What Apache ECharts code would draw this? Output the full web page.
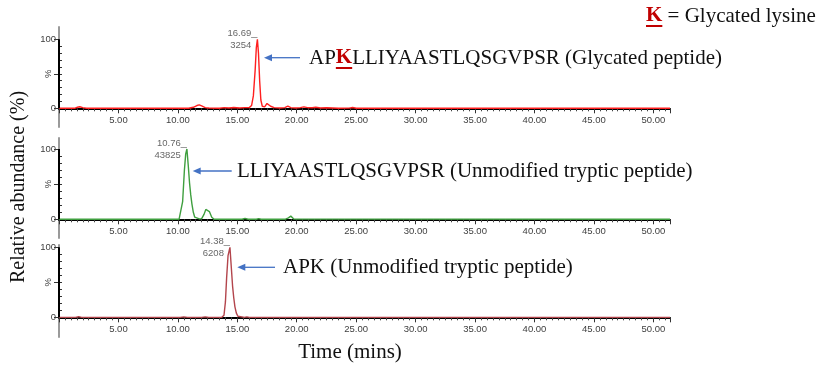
<!DOCTYPE html>
<html>
<head>
<meta charset="utf-8">
<title>Extracted ion chromatograms</title>
<script src="https://cdn.jsdelivr.net/npm/echarts@6/dist/echarts.min.js"></script>
<style>
  html, body { margin: 0; padding: 0; background: #ffffff; }
  #chart { width: 820px; height: 366px; }
</style>
</head>
<body>
<div id="chart"></div>
<script>
// Retention time axis (minutes)
const timeTicks = [5, 10, 15, 20, 25, 30, 35, 40, 45, 50];
const timeRange = [0, 51.4];

// Glycated peptide APKLLIYAASTLQSGVPSR: time (min) / relative abundance (%)
const glycTime  = [0, 1.3, 1.55, 1.75, 2.0, 2.3, 8.0, 10.9, 11.3, 11.6, 11.8, 12.0, 12.3, 12.6, 13.5, 13.9, 14.3, 14.7, 15.2, 15.6, 16.0, 16.2, 16.35, 16.5, 16.6, 16.69, 16.78, 16.88, 16.98, 17.1, 17.3, 17.5, 17.65, 17.8, 18.1, 18.6, 19.0, 19.25, 19.5, 19.9, 20.3, 20.6, 20.9, 21.3, 21.6, 22.0, 22.5, 23.5, 24.4, 24.7, 25.0, 26.0, 51.4];
const glycAbund = [0, 0, 1.5, 2.2, 1.0, 0, 0, 0, 1.5, 4.0, 5.0, 3.5, 1.0, 0.5, 0, 1.0, 0.5, 1.2, 0.5, 1.0, 1.0, 4, 18, 55, 88, 100, 80, 40, 12, 3, 2, 7, 8, 3, 1, 0.5, 1, 3, 1, 0.5, 1, 2, 1, 0.8, 1.5, 0.5, 0.8, 0, 0.3, 1.2, 0, 0, 0];

// Unmodified tryptic peptide LLIYAASTLQSGVPSR
const trypTime  = [0, 10.1, 10.25, 10.4, 10.55, 10.66, 10.76, 10.88, 10.98, 11.08, 11.18, 11.3, 11.42, 11.55, 11.8, 12.0, 12.2, 12.35, 12.5, 12.65, 12.85, 13.05, 15.4, 15.65, 15.9, 16.6, 16.8, 17.0, 19.0, 19.3, 19.5, 19.75, 51.4];
const trypAbund = [0, 0, 2, 25, 70, 93, 100, 75, 52, 35, 22, 10, 3, 0.5, 0.5, 1, 7, 14, 16, 11, 3, 0, 0, 1.2, 0, 0, 1, 0, 0, 2, 4.5, 0.5, 0];

// Unmodified tryptic peptide APK
const apkTime  = [0, 1.4, 1.65, 1.9, 10.2, 10.5, 10.8, 12.0, 12.3, 12.6, 13.7, 13.88, 14.0, 14.1, 14.22, 14.38, 14.5, 14.6, 14.7, 14.8, 14.92, 15.05, 15.2, 15.6, 15.8, 16.0, 51.4];
const apkAbund = [0, 0, 1, 0, 0, 0.6, 0, 0, 0.6, 0, 0, 3, 22, 56, 88, 100, 70, 45, 28, 15, 6, 1.5, 0, 0, 0.6, 0, 0];

// Apex retention time and peak area for each trace
const peakRT   = [16.69, 10.76, 14.38];
const peakArea = [3254, 43825, 6208];

const traceColors = ['#ff1f1f', '#3f9f3f', '#b3454c'];
const traces = [
  { time: glycTime, abund: glycAbund },
  { time: trypTime, abund: trypAbund },
  { time: apkTime,  abund: apkAbund }
];

// Panel placement (px) and visible abundance range per panel
const panelTop    = [27, 138, 245];
const panelHeight = [100, 100, 92];
const panelYMin   = [-27.1, -26.6, -28.1];
const panelYMax   = [117.8, 115.6, 103.3];

const sans  = 'Liberation Sans';
const serif = 'Liberation Serif';
const tickText = '#404040';

const chart = echarts.init(document.getElementById('chart'), null, { renderer: 'canvas' });

const grid = [], xAxis = [], yAxis = [], series = [];

traces.forEach((tr, i) => {
  grid.push({ left: 59, right: 150, top: panelTop[i], height: panelHeight[i], containLabel: false });

  // the time axis sits at 0 %, its labels are pulled up from the grid bottom to follow it
  const zeroToBottom = panelHeight[i] * (-panelYMin[i]) / (panelYMax[i] - panelYMin[i]);

  xAxis.push({
    gridIndex: i, type: 'value', min: timeRange[0], max: timeRange[1], interval: 5,
    axisLine: { show: true, onZero: true, lineStyle: { color: '#000', width: 2 } },
    axisTick: { show: true, length: 5, lineStyle: { color: '#333', width: 1 } },
    minorTick: { show: true, splitNumber: 10, length: 3, lineStyle: { color: '#444', width: 1 } },
    axisLabel: {
      customValues: timeTicks, formatter: v => v.toFixed(2), margin: 7 - zeroToBottom,
      fontFamily: sans, fontSize: 9.5, color: tickText
    },
    splitLine: { show: false }
  });

  // main abundance axis: 0 / 100 labels with outward ticks
  yAxis.push({
    gridIndex: i, type: 'value', min: panelYMin[i], max: panelYMax[i], position: 'left',
    axisLine: { show: true, onZero: false, lineStyle: { color: '#9a9a9a', width: 2 } },
    axisTick: { show: true, customValues: [0, 50, 100], length: 5, lineStyle: { color: '#333', width: 1 } },
    axisLabel: { customValues: [0, 100], margin: 3, fontFamily: sans, fontSize: 9.5, color: tickText },
    splitLine: { show: false }
  });
  // overlay axis: inward minor ticks and the rotated % label
  yAxis.push({
    gridIndex: i, type: 'value', min: panelYMin[i], max: panelYMax[i], position: 'left',
    axisLine: { show: false, onZero: false },
    axisTick: { show: true, inside: true, customValues: [10, 20, 30, 40, 50, 60, 70, 80, 90], length: 3, lineStyle: { color: '#333', width: 1 } },
    axisLabel: { customValues: [50], formatter: () => '%', rotate: 90, margin: 6, fontFamily: sans, fontSize: 9.5, color: tickText },
    splitLine: { show: false }
  });

  series.push({
    type: 'line', xAxisIndex: i, yAxisIndex: 2 * i,
    data: tr.time.map((t, k) => [t, tr.abund[k]]),
    showSymbol: false, symbol: 'none', clip: false, silent: true, animation: false,
    lineStyle: { color: traceColors[i], width: 1.4 },
    z: 3,
    markLine: {
      silent: true, symbol: 'none', animation: false,
      label: { show: false },
      lineStyle: { color: '#000', width: 2, type: 'solid' },
      data: [[{ coord: [0, 0] }, { coord: [0, 100] }]]
    }
  });

  // apex annotation: retention time and area
  series.push({
    type: 'scatter', xAxisIndex: i, yAxisIndex: 2 * i,
    data: [[peakRT[i], 100]], symbolSize: 0, silent: true, animation: false, z: 4,
    label: {
      show: true, position: 'left', distance: 0,
      formatter: () => `{n|${peakRT[i].toFixed(2)}}{u|_}\n{n|${peakArea[i]}}{g|}`,
      rich: {
        n: { fontFamily: sans, fontSize: 9.5, color: tickText, lineHeight: 12 },
        u: { fontFamily: sans, fontSize: 11, color: '#555', lineHeight: 12 },
        g: { width: 6, lineHeight: 12 }
      }
    }
  });
});

// text measurement for the underlined glycated K
const ctx = document.createElement('canvas').getContext('2d');
function textWidth(str, font) { ctx.font = font; return ctx.measureText(str).width; }
const annFont = `21px "${serif}"`;
const kFont = `bold 21px "${serif}"`;
const kColor = '#c00000';

function arrow(tipX, tailX, y) {
  const c = '#4472c4';
  return [
    { type: 'line', silent: true, shape: { x1: tipX + 6, y1: y, x2: tailX, y2: y }, style: { stroke: c, lineWidth: 1.3 } },
    { type: 'polygon', silent: true, shape: { points: [[tipX, y], [tipX + 8, y - 3.5], [tipX + 8, y + 3.5]] }, style: { fill: c } }
  ];
}

function labelText(x, y, parts) {
  return {
    type: 'text', silent: true, x, y,
    style: {
      text: parts, verticalAlign: 'middle', align: 'left',
      rich: {
        a: { fontFamily: serif, fontSize: 21, fill: '#111' },
        k: { fontFamily: serif, fontSize: 21, fontWeight: 'bold', fill: kColor }
      }
    }
  };
}

function underline(x, y, w) {
  return { type: 'rect', silent: true, shape: { x, y, width: w, height: 2 }, style: { fill: kColor } };
}

const legendX = 646, legendY = 16;
const p1X = 309, p1Y = 58;
const apW = textWidth('AP', annFont);
const kW = textWidth('K', kFont);

const graphic = [
  // key for the glycated residue
  labelText(legendX, legendY, '{k|K}{a| = Glycated lysine}'),
  underline(legendX, legendY + 9, kW),
  // peptide annotations
  labelText(p1X, p1Y, '{a|AP}{k|K}{a|LLIYAASTLQSGVPSR (Glycated peptide)}'),
  underline(p1X + apW, p1Y + 9, kW),
  labelText(237, 171, '{a|LLIYAASTLQSGVPSR (Unmodified tryptic peptide)}'),
  labelText(283, 267, '{a|APK (Unmodified tryptic peptide)}'),
  ...arrow(264, 300, 57.7),
  ...arrow(192.7, 231.7, 171),
  ...arrow(237.3, 275, 267.3),
  // axis titles
  {
    type: 'text', silent: true, x: 19, y: 187, rotation: Math.PI / 2,
    style: { text: 'Relative abundance (%)', font: `20px "${serif}"`, fill: '#111', align: 'center', verticalAlign: 'middle' }
  },
  {
    type: 'text', silent: true, x: 350, y: 352,
    style: { text: 'Time (mins)', font: `21px "${serif}"`, fill: '#111', align: 'center', verticalAlign: 'middle' }
  }
];

chart.setOption({
  animation: false,
  backgroundColor: '#ffffff',
  grid, xAxis, yAxis, series, graphic
});
</script>
</body>
</html>
